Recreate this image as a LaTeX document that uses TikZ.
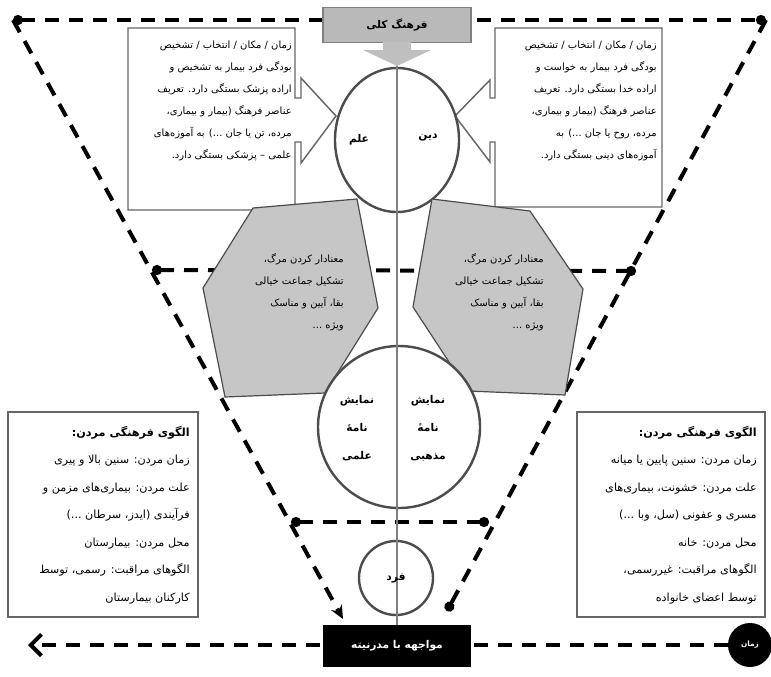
\documentclass[tikz,border=0pt]{standalone}
\usepackage{fontspec}
\usepackage{tikz}
\usetikzlibrary{arrows.meta}
\TeXXeTstate=1
\newfontfamily\arabicfont[Script=Arabic]{DejaVu Sans}
\newcommand{\fa}[1]{\beginR #1\endR}
\tikzset{
  dashline/.style={line width=3pt, dash pattern=on 10.5pt off 7.5pt},
  boxline/.style={draw=gray!80!black, line width=1.1pt, fill=white},
  ring/.style={draw=black!70, line width=1.8pt, fill=white},
  grayshape/.style={draw=black!70, line width=0.9pt, fill=gray!45},
  fatext/.style={font=\arabicfont\fontsize{7.5}{16.5}\selectfont, align=right, inner sep=0pt, anchor=north east},
  facircle/.style={font=\arabicfont\bfseries\fontsize{8}{21}\selectfont, align=center, inner sep=0pt},
}

\begin{document}
\begin{tikzpicture}[x=0.75pt,y=0.75pt,yscale=-1,xscale=1]
\useasboundingbox (0,0) rectangle (771,676);

%Corner points of the dashed frame
\coordinate (tl) at (13,20);
\coordinate (tr) at (766,20);
\coordinate (ml) at (152,270);
\coordinate (mr) at (636,271);
\coordinate (ll) at (291,522);
\coordinate (lr) at (489,522);
\coordinate (arrL) at (343,619);
\coordinate (dotR) at (447,611);
\coordinate (endL) at (28,645);

%Dashed Lines
\draw [dashline, {Circle[length=7.5pt]}-{Circle[length=7.5pt]}] (tl) -- (tr);
\draw [dashline, -{Stealth[length=10pt,width=9pt]}] (tl) -- (arrL);
\draw [dashline, -{Circle[length=7.5pt]}] (tr) -- (dotR);
\draw [dashline, {Circle[length=7.5pt]}-{Circle[length=7.5pt]}] (ml) -- (mr);
\draw [dashline, {Circle[length=7.5pt]}-{Circle[length=7.5pt]}] (ll) -- (lr);

% Time circle and bottom line
\node (zaman) [circle, fill=black, minimum size=33pt, inner sep=0pt, text=white, font=\arabicfont\bfseries\fontsize{5.5}{6}\selectfont] at (750,645) {\fa{زمان}};
\draw [dashline, -{Straight Barb[length=8pt,width=16pt,line width=3pt]}] (zaman) -- (endL);

% Bar and title
\node (modern) [fill=black, text=white, minimum width=111pt, minimum height=31.5pt, inner sep=0pt, font=\arabicfont\bfseries\fontsize{8}{9}\selectfont] at (397,646) {\fa{مواجهه با مدرنیته}};
\node (farhang) [fill=gray!55, draw=gray, line width=1pt, minimum width=111pt, minimum height=26pt, inner sep=0pt, font=\arabicfont\bfseries\fontsize{8}{9}\selectfont] at (397,25) {\fa{فرهنگ کلی}};

%Callout boxes
\draw [boxline] (295,98) -- (295,28) -- (128,28) -- (128,210) -- (295,210) -- (295,142) -- (301,142) -- (301,163) -- (336,116) -- (301,78) -- (301,98) -- cycle;
\draw [boxline] (495,98) -- (495,28) -- (662,28) -- (662,207) -- (495,207) -- (495,142) -- (490,142) -- (490,162) -- (455,116) -- (490,80) -- (490,98) -- cycle;
\draw [boxline] (8,412) rectangle (198,617);
\draw [boxline] (577,412) rectangle (765,617);

%Top circle
\draw [ring] (397,140) ellipse [x radius=62, y radius=72];

%Gray shapes
\draw [grayshape] (253,208) -- (357,199) -- (378,308) -- (325,393) -- (225,397) -- (203,288) -- cycle;
\draw [grayshape] (432,199) -- (530,211) -- (583,289) -- (565,395) -- (468,391) -- (413,307) -- cycle;

%Middle and small circles
\draw [ring] (399,427) circle [radius=81];
\draw [ring] (396,578) circle [radius=37];

%Center line
\draw [draw=gray, line width=1.5pt] (farhang.south) -- (modern.north);

%Down arrow
\fill [gray!50] (383,42) -- (411,42) -- (411,50) -- (431,50) -- (397,66) -- (363,50) -- (383,50) -- cycle;

% Text Node
\node (elm) [facircle] at (359,140) {\fa{علم}};
% Text Node
\node (din) [facircle] at (428,138) {\fa{دین}};
% Text Node
\node (elmtext) [fatext] at (292,41) {\fa{زمان / مکان / انتخاب / تشخیص}\\ \fa{بودگی فرد بیمار به تشخیص و}\\ \fa{اراده پزشک بستگی دارد. تعریف}\\ \fa{عناصر فرهنگ (بیمار و بیماری،}\\ \fa{مرده، تن یا جان ...) به آموزه‌های}\\ \fa{علمی – پزشکی بستگی دارد.}};
% Text Node
\node (dintext) [fatext] at (657,41) {\fa{زمان / مکان / انتخاب / تشخیص}\\ \fa{بودگی فرد بیمار به خواست و}\\ \fa{اراده خدا بستگی دارد. تعریف}\\ \fa{عناصر فرهنگ (بیمار و بیماری،}\\ \fa{مرده، روح یا جان ...) به}\\ \fa{آموزه‌های دینی بستگی دارد.}};
% Text Node
\node (maanaL) [fatext] at (344,253) {\fa{معنادار کردن مرگ،}\\ \fa{تشکیل جماعت خیالی}\\ \fa{بقا، آیین و مناسک}\\ \fa{ویژه ...}};
% Text Node
\node (maanaR) [fatext] at (544,253) {\fa{معنادار کردن مرگ،}\\ \fa{تشکیل جماعت خیالی}\\ \fa{بقا، آیین و مناسک}\\ \fa{ویژه ...}};
% Text Node
\node (namaL) [facircle] at (357,428) {\fa{نمایش}\\ \fa{نامهٔ}\\ \fa{علمی}};
% Text Node
\node (namaR) [facircle] at (428,428) {\fa{نمایش}\\ \fa{نامهٔ}\\ \fa{مذهبی}};
% Text Node
\node (fard) [facircle] at (396,578) {\fa{فرد}};
% Text Node
\node (olguL) [fatext, font=\arabicfont\fontsize{8.4}{20.6}\selectfont] at (190,426) {\fa{\textbf{الگوی فرهنگی مردن:}}\\ \fa{زمان مردن: سنین بالا و پیری}\\ \fa{علت مردن: بیماری‌های مزمن و}\\ \fa{فرآیندی (ایدز، سرطان ...)}\\ \fa{محل مردن: بیمارستان}\\ \fa{الگوهای مراقبت: رسمی، توسط}\\ \fa{کارکنان بیمارستان}};
% Text Node
\node (olguR) [fatext, font=\arabicfont\fontsize{8.4}{20.6}\selectfont] at (757,426) {\fa{\textbf{الگوی فرهنگی مردن:}}\\ \fa{زمان مردن: سنین پایین یا میانه}\\ \fa{علت مردن: خشونت، بیماری‌های}\\ \fa{مسری و عفونی (سل، وبا ...)}\\ \fa{محل مردن: خانه}\\ \fa{الگوهای مراقبت: غیررسمی،}\\ \fa{توسط اعضای خانواده}};

\end{tikzpicture}
\end{document}
